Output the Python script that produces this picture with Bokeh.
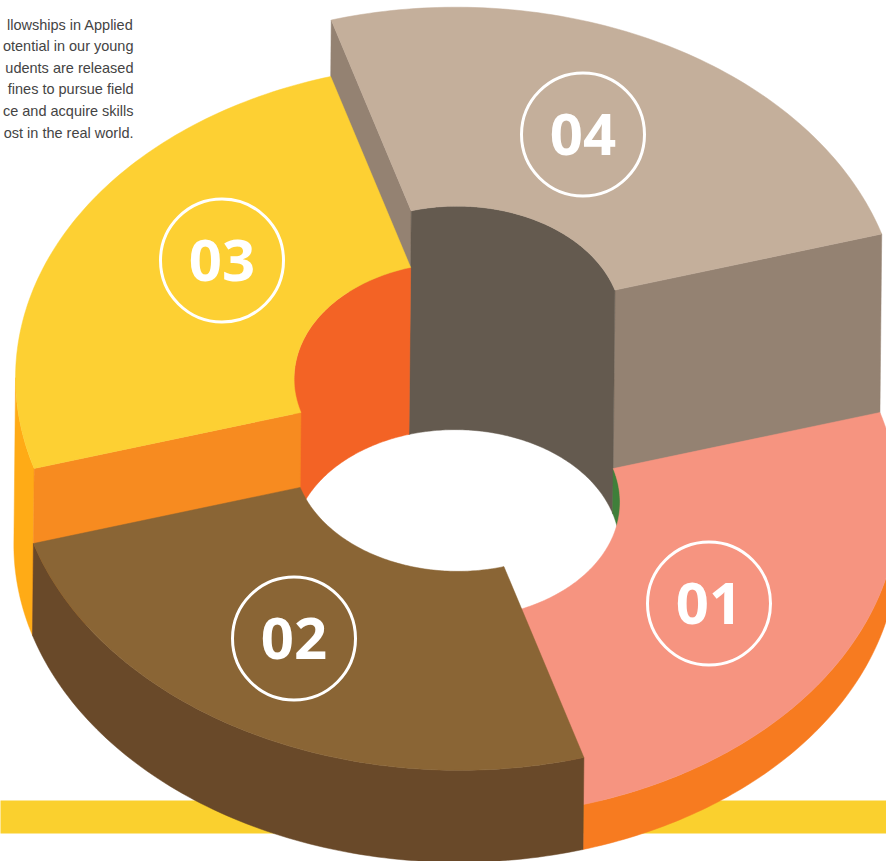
import math
from bokeh.embed import file_html
from bokeh.models import Range1d
from bokeh.plotting import figure
from bokeh.resources import INLINE
from bokeh.core.properties import value

# Ring data: one stepped slice per label
labels = ["01", "02", "03", "04"]
shares = [25, 25, 25, 25]
heights = [45, 92, 167, 223.5]

top_colors = ["#F69480", "#8A6535", "#FDD033", "#C4AF9B"]
outer_colors = ["#F77B20", "#694929", "#FFAB16", "#948272"]
inner_colors = ["#3F7F3A", "#694929", "#F36325", "#645A4F"]
side_colors = ["#F77B20", "#694929", "#F78B20", "#948272"]

note_lines = [
    "llowships in Applied",
    "otential in our young",
    "udents are released",
    "fines to pursue field",
    "ce and acquire skills",
    "ost in the real world.",
]

# Projection of the ring's floor plane on the page
CX, CY = 455.5, 546.0
UX, UY = 423.5, -89.0
VX, VY = 127.0, 303.0
LEAN = 0.01
HOLE = 0.37
W, H = 886, 861


def point(r, t, h):
    a = math.radians(t)
    x = CX + r * (UX * math.cos(a) + VX * math.sin(a)) + LEAN * h
    y = CY + r * (UY * math.cos(a) + VY * math.sin(a)) - h
    return x, y


def arc(r, t0, t1, h, steps=90):
    pts = [point(r, t0 + (t1 - t0) * k / steps, h) for k in range(steps + 1)]
    return pts


def deck(t0, t1, h):
    return arc(1, t0, t1, h) + arc(HOLE, t1, t0, h)


def curved_wall(r, t0, t1, h):
    return arc(r, t0, t1, h) + arc(r, t1, t0, 0)


def radial_wall(t, h):
    return [point(HOLE, t, h), point(1, t, h), point(1, t, 0), point(HOLE, t, 0)]


# Screen-space silhouette angle: outer walls end here, inner walls begin here
turn = math.degrees(math.atan2(VX, UX))

edges = [0]
for s in shares:
    edges.append(edges[-1] + 360 * s / sum(shares))

shapes = []


def add(pts, color):
    shapes.append(([p[0] for p in pts], [p[1] for p in pts], color))


# Painted from the back of the ring to the front
i = 3
a0, a1 = edges[i], edges[i + 1]
add(radial_wall(a0, heights[i]), side_colors[i])
add(radial_wall(a1, heights[i]), side_colors[i])
add(curved_wall(HOLE, a0, a1, heights[i]), inner_colors[i])
add(deck(a0, a1, heights[i]), top_colors[i])

i = 2
a0, a1 = edges[i], edges[i + 1]
add(curved_wall(1, a0, a0 + turn, heights[i]), outer_colors[i])
add(curved_wall(HOLE, a0 + turn, a1, heights[i]), inner_colors[i])
add(radial_wall(a0, heights[i]), side_colors[i])
add(deck(a0, a1, heights[i]), top_colors[i])

i = 0
a0, a1 = edges[i], edges[i + 1]
add(curved_wall(HOLE, a0, a0 + turn, heights[i]), inner_colors[i])
add(curved_wall(1, a0 + turn, a1, heights[i]), outer_colors[i])
add(deck(a0, a1, heights[i]), top_colors[i])

i = 1
a0, a1 = edges[i], edges[i + 1]
add(curved_wall(1, a0, a1, heights[i]), outer_colors[i])
add(deck(a0, a1, heights[i]), top_colors[i])

p = figure(
    width=W,
    height=H,
    x_range=Range1d(0, W),
    y_range=Range1d(H, 0),
    x_axis_location=None,
    y_axis_location=None,
    toolbar_location=None,
    output_backend="svg",
    min_border=0,
    outline_line_color=None,
    background_fill_color="white",
    border_fill_color="white",
)
p.grid.visible = False

# Ribbon running behind the ring
p.quad(left=[-5], right=[W + 5], top=[800], bottom=[833], fill_color="#FAD02E", line_color=None)

p.patches(
    xs=[s[0] for s in shapes],
    ys=[s[1] for s in shapes],
    fill_color=[s[2] for s in shapes],
    line_color=[s[2] for s in shapes],
    line_width=0.5,
)

# Numbered badges on each deck
badge_x = [708.5, 293.5, 221.5, 582.5]
badge_y = [603, 638, 260, 134]
p.circle(
    x=badge_x,
    y=badge_y,
    radius=61.5,
    fill_color=None,
    line_color="white",
    line_width=3,
)
p.text(
    x=badge_x,
    y=badge_y,
    text=labels,
    text_color="white",
    text_font=value("Open Sans"),
    text_font_style="bold",
    text_font_size="58px",
    text_align="center",
    text_baseline="middle",
)

# Caption block, right-aligned beside the ring
note_y = [24 + 21.6 * k for k in range(len(note_lines))]
p.text(
    x=[133] * len(note_lines),
    y=note_y,
    text=note_lines,
    text_color="#444444",
    text_font=value("Liberation Sans"),
    text_font_size="14.5px",
    text_align="right",
    text_baseline="middle",
)

open("out.html", "w").write(file_html(p, INLINE))
